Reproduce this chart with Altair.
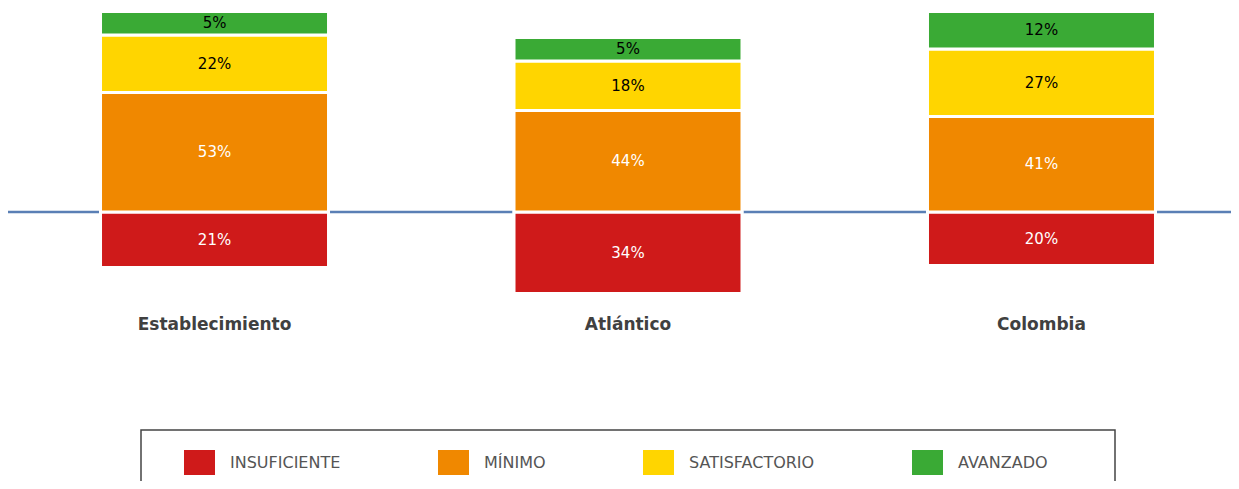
import altair as alt
import pandas as pd

categories = ["Establecimiento", "Atlántico", "Colombia"]
levels = ["INSUFICIENTE", "MÍNIMO", "SATISFACTORIO", "AVANZADO"]
colors = ["#cf1a1a", "#f08800", "#ffd500", "#3aaa35"]
insuficiente = [21, 34, 20]
minimo = [53, 44, 41]
satisfactorio = [22, 18, 27]
avanzado = [5, 5, 12]

# each segment in the original is drawn with a fixed minimum extra length
PAD = 6.75

rows = []
for i, c in enumerate(categories):
    rows.append(dict(cat=c, level=levels[0], v=insuficiente[i],
                     y0=-(insuficiente[i] + PAD), y1=0, txt="white"))
    b = 0
    for lvl, arr, tc in [(levels[1], minimo, "white"), (levels[2], satisfactorio, "black"),
                         (levels[3], avanzado, "black")]:
        rows.append(dict(cat=c, level=lvl, v=arr[i], y0=b, y1=b + arr[i] + PAD, txt=tc))
        b += arr[i] + PAD
df = pd.DataFrame(rows)
df["mid"] = (df["y0"] + df["y1"]) / 2
df["label"] = df["v"].astype(str) + "%"

W, H = 1223, 473
xscale = alt.Scale(domain=categories, paddingInner=0.4486, paddingOuter=0.2032, align=0.5506)
yscale = alt.Scale(domain=[-134.5, 102], nice=False, zero=False)

frame = alt.Chart(pd.DataFrame({"a": [0]})).mark_rect(
    fill="white", stroke="#444444", strokeWidth=1.5
).encode(x=alt.value(133), x2=alt.value(1107), y=alt.value(422), y2=alt.value(540))

rule = alt.Chart(pd.DataFrame({"z": [0]})).mark_rule(color="#5a7fb5", strokeWidth=2.5).encode(
    y=alt.Y("z:Q", scale=yscale, axis=None)
)

bars = alt.Chart(df).mark_bar(stroke="white", strokeWidth=3).encode(
    x=alt.X("cat:N", scale=xscale, axis=None, sort=categories),
    y=alt.Y("y0:Q", scale=yscale, axis=None),
    y2="y1:Q",
    color=alt.Color(
        "level:N",
        scale=alt.Scale(domain=levels, range=colors),
        sort=levels,
        legend=alt.Legend(
            title=None,
            orient="none",
            legendX=179,
            legendY=442,
            direction="horizontal",
            columns=4,
            columnPadding=97,
            symbolType="M-1.24,-1H1.24V1H-1.24Z",
            symbolSize=625,
            symbolStrokeWidth=0,
            symbolOpacity=1,
            labelOffset=18,
            labelFontSize=16,
            labelFont="DejaVu Sans",
            labelColor="#555555",
            labelLimit=300,
            padding=0,
        ),
    ),
)

texts = alt.Chart(df).mark_text(fontSize=15, font="DejaVu Sans", baseline="middle").encode(
    x=alt.X("cat:N", scale=xscale, sort=categories, axis=None),
    y=alt.Y("mid:Q", scale=yscale, axis=None),
    text="label:N",
    color=alt.Color("txt:N", scale=None),
)

cats = alt.Chart(pd.DataFrame({"cat": categories})).mark_text(
    fontSize=17, font="DejaVu Sans", fontWeight="bold", color="#404040", baseline="middle"
).encode(
    x=alt.X("cat:N", scale=xscale, sort=categories, axis=None),
    y=alt.value(317),
    text="cat:N",
)

chart = alt.layer(frame, bars, texts, cats, rule).properties(
    width=W, height=H, autosize=alt.AutoSizeParams(type="none"), padding=0
).configure_view(stroke=None)

# draw the baseline rule beneath the bars by moving its layer right after the frame
spec_layers = chart.layer
chart.layer = [spec_layers[0], spec_layers[4], spec_layers[1], spec_layers[2], spec_layers[3]]

chart.save("out.html", embed_options={"renderer": "svg", "actions": False})
